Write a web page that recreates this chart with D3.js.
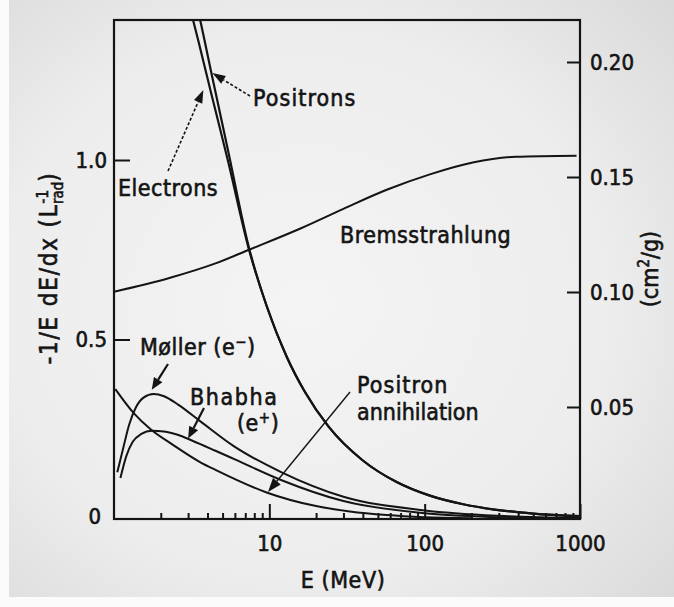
<!DOCTYPE html>
<html>
<head>
<meta charset="utf-8">
<script src="https://cdn.jsdelivr.net/npm/d3@7"></script>
<style>
  body { margin: 0; background: #fff; }
  svg text { font-family: "DejaVu Sans Condensed", "DejaVu Sans", sans-serif; fill: #141414; }
</style>
</head>
<body>
<svg id="chart" width="674" height="607"></svg>
<script>
// Fractional energy loss per radiation length in lead, -1/E dE/dx (1/X0), vs. energy E (MeV)

// Ionization: electrons and positrons
const ionEnergy    = [3.1, 3.5, 4.2, 5.4, 7.4, 9.6, 13, 17, 24, 40, 66, 108, 177, 290, 500, 1000];
const electronLoss = [1.42, 1.33, 1.19, 1.00, 0.75, 0.594, 0.45, 0.353, 0.258, 0.163, 0.103, 0.065, 0.041, 0.0255, 0.0152, 0.0078];
const positronLoss = [1.50, 1.41, 1.25, 1.03, 0.755, 0.594, 0.45, 0.353, 0.258, 0.163, 0.103, 0.065, 0.041, 0.0255, 0.0152, 0.0078];

// Bremsstrahlung
const bremsEnergy = [1, 2.3, 4.5, 7.4, 16, 30, 57, 108, 204, 385, 950];
const bremsLoss   = [0.633, 0.672, 0.712, 0.75, 0.81, 0.864, 0.917, 0.96, 0.993, 1.009, 1.012];

// Moller scattering (e-)
const mollerEnergy = [1.05, 1.15, 1.25, 1.38, 1.55, 1.8, 2.1, 2.6, 3.6, 5.9, 12, 30, 100, 300, 1000];
const mollerLoss   = [0.13, 0.2, 0.262, 0.31, 0.338, 0.348, 0.342, 0.318, 0.272, 0.203, 0.13, 0.062, 0.024, 0.009, 0.003];

// Bhabha scattering (e+)
const bhabhaEnergy = [1.1, 1.2, 1.32, 1.5, 1.75, 2.1, 2.6, 3.2, 4.5, 6, 12, 30, 100, 300, 1000];
const bhabhaLoss   = [0.114, 0.175, 0.215, 0.237, 0.246, 0.244, 0.234, 0.218, 0.19, 0.166, 0.108, 0.05, 0.016, 0.005, 0.001];

// Positron annihilation
const annihEnergy = [1.02, 1.34, 1.72, 2.37, 3.6, 4.5, 9.6, 20, 33, 57, 100, 200];
const annihLoss   = [0.362, 0.295, 0.25, 0.208, 0.158, 0.137, 0.074, 0.036, 0.021, 0.011, 0.005, 0.002];

// Axis ticks
const xMajorTicks = [10, 100, 1000];
const xTickLabels = ["10", "100", "1000"];
const xMinorTicks = [2, 3, 4, 5, 6, 7, 8, 9, 20, 30, 40, 50, 60, 70, 80, 90, 200, 300, 400, 500, 600, 700, 800, 900];
const yTicks = [0, 0.5, 1.0];
const yTickLabels = ["0", "0.5", "1.0"];
const y2Ticks = [0.05, 0.10, 0.15, 0.20];
const y2TickLabels = ["0.05", "0.10", "0.15", "0.20"];

const svg = d3.select("#chart");
const W = 674, H = 607;
const frame = { left: 114, right: 580, top: 20, bottom: 519 };
const INK = "#141414";

// paper background
const defs = svg.append("defs");
const grad = defs.append("radialGradient").attr("id", "paper")
  .attr("cx", "0.45").attr("cy", "0.5").attr("r", "0.75");
grad.append("stop").attr("offset", "0").attr("stop-color", "#f4f4f4");
grad.append("stop").attr("offset", "0.6").attr("stop-color", "#ededed");
grad.append("stop").attr("offset", "1").attr("stop-color", "#d9d9d9");
svg.append("rect").attr("width", W).attr("height", H).attr("fill", "url(#paper)");
svg.append("rect").attr("x", 0).attr("y", 0).attr("width", 9).attr("height", H).attr("fill", "#fbfbfb");
svg.append("rect").attr("x", 0).attr("y", 597).attr("width", W).attr("height", 10).attr("fill", "#fbfbfb");

defs.append("clipPath").attr("id", "plotClip")
  .append("rect")
  .attr("x", frame.left).attr("y", frame.top)
  .attr("width", frame.right - frame.left).attr("height", frame.bottom - frame.top);

const x = d3.scaleLog().domain([1, 1000]).range([frame.left, frame.right]);
const y = d3.scaleLinear().domain([0, 1]).range([frame.bottom, 160]);
const y2 = d3.scaleLinear().domain([0, 0.2]).range([522, 62]);

// text weight: thin outline in the ink colour thickens the lettering
function heavy(sel) {
  return sel.attr("stroke", INK).attr("stroke-width", 0.6).attr("paint-order", "stroke");
}

// ---- axes ----
function styleAxis(g) {
  g.select(".domain").remove();
  g.selectAll(".tick line").attr("stroke", INK).attr("stroke-width", 2);
  g.selectAll(".tick text").attr("fill", INK).attr("font-size", 22)
    .attr("font-family", "\"DejaVu Sans Condensed\", \"DejaVu Sans\", sans-serif")
    .call(heavy);
}

// bottom: minor ticks
svg.append("g").attr("transform", `translate(0,${frame.bottom})`)
  .call(d3.axisBottom(x).tickValues(xMinorTicks).tickSize(-6).tickFormat(""))
  .call(styleAxis);
// bottom: major ticks with labels
svg.append("g").attr("transform", `translate(0,${frame.bottom})`)
  .call(d3.axisBottom(x).tickValues(xMajorTicks).tickSize(-15).tickPadding(16)
    .tickFormat((d, i) => xTickLabels[i]))
  .call(styleAxis);

// left axis
svg.append("g").attr("transform", `translate(${frame.left},0)`)
  .call(d3.axisLeft(y).tickValues(yTicks).tickSize(-16).tickPadding(7)
    .tickFormat((d, i) => yTickLabels[i]))
  .call(styleAxis)
  .call(g => g.selectAll(".tick").filter(d => d === 0).select("line").remove())
  .call(g => g.selectAll(".tick").filter(d => d === 0).select("text").attr("x", -13).attr("dy", "0.2em"));

// right axis
svg.append("g").attr("transform", `translate(${frame.right},0)`)
  .call(d3.axisRight(y2).tickValues(y2Ticks).tickSize(-13).tickPadding(10)
    .tickFormat((d, i) => y2TickLabels[i]))
  .call(styleAxis);

// frame
svg.append("rect")
  .attr("x", frame.left).attr("y", frame.top)
  .attr("width", frame.right - frame.left).attr("height", frame.bottom - frame.top)
  .attr("fill", "none").attr("stroke", INK).attr("stroke-width", 2.2);

// ---- curves ----
const line = d3.line()
  .x(d => x(d[0]))
  .y(d => y(d[1]))
  .curve(d3.curveMonotoneX);

const curves = [
  { e: ionEnergy, v: electronLoss, w: 2.2 },
  { e: ionEnergy, v: positronLoss, w: 2.2 },
  { e: bremsEnergy, v: bremsLoss, w: 2.0 },
  { e: mollerEnergy, v: mollerLoss, w: 2.0 },
  { e: bhabhaEnergy, v: bhabhaLoss, w: 2.0 },
  { e: annihEnergy, v: annihLoss, w: 2.0 }
];

const plot = svg.append("g").attr("clip-path", "url(#plotClip)");
plot.selectAll("path.curve")
  .data(curves)
  .join("path")
  .attr("class", "curve")
  .attr("d", c => line(c.e.map((e, i) => [e, c.v[i]])))
  .attr("fill", "none")
  .attr("stroke", INK)
  .attr("stroke-width", c => c.w)
  .attr("stroke-linejoin", "round");

// ---- annotations ----
function arrow(x1, y1, x2, y2, opts = {}) {
  const len = opts.head || 13, half = opts.halfWidth || 4.5;
  const dx = x2 - x1, dy = y2 - y1, d = Math.hypot(dx, dy);
  const ux = dx / d, uy = dy / d;
  const bx = x2 - ux * len, by = y2 - uy * len;
  svg.append("line")
    .attr("x1", x1).attr("y1", y1).attr("x2", bx).attr("y2", by)
    .attr("stroke", INK).attr("stroke-width", opts.width || 1.6)
    .attr("stroke-dasharray", opts.dash || null);
  svg.append("path")
    .attr("d", `M${x2},${y2}L${bx - uy * half},${by + ux * half}L${bx + uy * half},${by - ux * half}Z`)
    .attr("fill", INK);
}

function label(txt, lx, ly, spacing = 0.5) {
  return svg.append("text").attr("x", lx).attr("y", ly).attr("font-size", 23)
    .attr("letter-spacing", spacing).call(heavy).text(txt);
}

label("Positrons", 253, 106, 1.1);
arrow(250, 96, x(4.3), y(1.242), { dash: "3,2" });

label("Electrons", 118, 196);
arrow(168, 171, x(3.76), y(1.195), { dash: "3,2" });

label("Bremsstrahlung", 340, 243);

const moller = svg.append("text").attr("x", 140).attr("y", 355).attr("font-size", 23)
  .attr("letter-spacing", 0.5).call(heavy);
moller.append("tspan").text("Møller (e");
moller.append("tspan").attr("dy", -8).attr("font-size", 15).text("−");
moller.append("tspan").attr("dy", 8).text(")");
arrow(168, 364, x(1.75), y(0.36), { width: 2.2, head: 12, halfWidth: 5 });

label("Bhabha", 190, 405, 1.6);
const eplus = svg.append("text").attr("x", 237).attr("y", 431).attr("font-size", 23)
  .attr("letter-spacing", 0.5).call(heavy);
eplus.append("tspan").text("(e");
eplus.append("tspan").attr("dy", -8).attr("font-size", 15).text("+");
eplus.append("tspan").attr("dy", 8).text(")");
arrow(204, 408, x(3.0), y(0.224), { width: 2.2, head: 12, halfWidth: 5 });

label("Positron", 357, 393, 1.1);
label("annihilation", 357, 420, 0);
arrow(350, 392, x(9.8), y(0.075), { width: 1.4, head: 14, halfWidth: 5 });

// ---- axis titles ----
svg.append("text")
  .attr("x", 343).attr("y", 588).attr("text-anchor", "middle").attr("font-size", 23)
  .attr("letter-spacing", 0.6).call(heavy)
  .text("E (MeV)");

const yTitle = svg.append("text")
  .attr("transform", "translate(57,268) rotate(-90)")
  .attr("text-anchor", "middle").attr("font-size", 24).attr("letter-spacing", 1.8).call(heavy);
yTitle.append("tspan").text("-1/E dE/dx (L");
yTitle.append("tspan").attr("dy", -9).attr("font-size", 15).attr("letter-spacing", 0).text("-1");
yTitle.append("tspan").attr("dx", -14).attr("dy", 15).attr("font-size", 15).attr("letter-spacing", 0).text("rad");
yTitle.append("tspan").attr("dy", -6).text(")");

const y2Title = svg.append("text")
  .attr("transform", "translate(658,269) rotate(-90)")
  .attr("text-anchor", "middle").attr("font-size", 23).call(heavy);
y2Title.append("tspan").text("(cm");
y2Title.append("tspan").attr("dy", -9).attr("font-size", 15).text("2");
y2Title.append("tspan").attr("dy", 9).text("/g)");
</script>
</body>
</html>
